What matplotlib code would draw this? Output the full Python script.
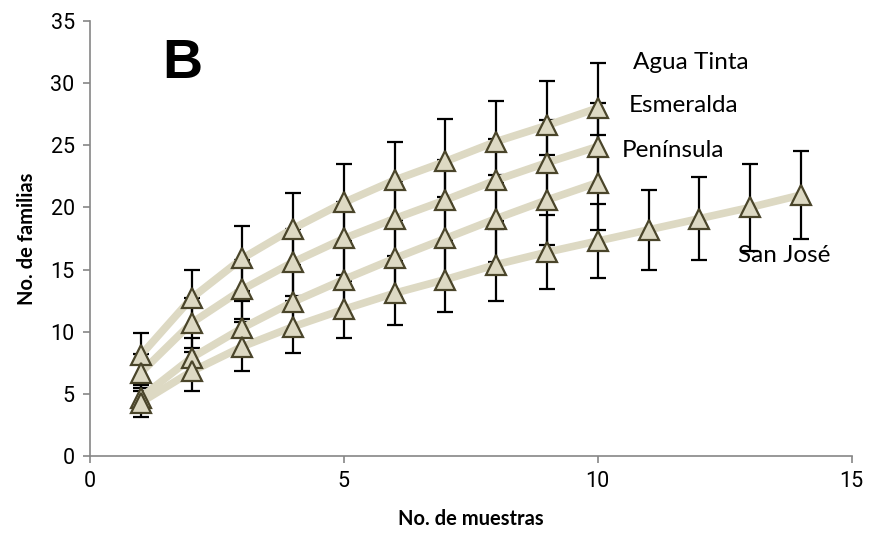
import matplotlib.pyplot as plt

# ---- Data ----
muestras_10 = [1, 2, 3, 4, 5, 6, 7, 8, 9, 10]
muestras_14 = [1, 2, 3, 4, 5, 6, 7, 8, 9, 10, 11, 12, 13, 14]

agua_tinta = [8.1, 12.7, 15.9, 18.3, 20.4, 22.2, 23.7, 25.3, 26.6, 28.0]
agua_tinta_err = [1.8, 2.3, 2.6, 2.9, 3.1, 3.1, 3.4, 3.3, 3.6, 3.6]

esmeralda = [6.7, 10.7, 13.4, 15.6, 17.5, 19.1, 20.6, 22.2, 23.6, 24.9]
esmeralda_err = [1.5, 2.0, 2.4, 2.7, 2.9, 3.0, 3.2, 3.3, 3.4, 3.5]

peninsula = [4.7, 7.9, 10.3, 12.4, 14.2, 15.9, 17.5, 19.1, 20.6, 22.0]
peninsula_err = [1.0, 1.6, 2.2, 2.6, 2.9, 3.1, 3.3, 3.5, 3.6, 3.8]

san_jose = [4.3, 6.8, 8.8, 10.4, 11.8, 13.1, 14.2, 15.4, 16.4, 17.3,
            18.2, 19.1, 20.0, 21.0]
san_jose_err = [1.2, 1.6, 2.0, 2.1, 2.3, 2.6, 2.6, 2.9, 3.0, 3.0,
                3.2, 3.35, 3.5, 3.55]

SERIES = [
    ('Agua Tinta', muestras_10, agua_tinta, agua_tinta_err, (10.69, 31.7)),
    ('Esmeralda', muestras_10, esmeralda, esmeralda_err, (10.6, 28.2)),
    ('Península', muestras_10, peninsula, peninsula_err, (10.47, 24.6)),
    ('San José', muestras_14, san_jose, san_jose_err, (12.76, 16.1)),
]

LINE_C = '#ddd9c3'
EDGE_C = '#4a452a'
AXIS_C = '#868686'

fig = plt.figure(figsize=(8.7, 5.44), dpi=100)
ax = fig.add_axes([0.1034, 0.1618, 0.8756, 0.7996])

# Error bars first, then lines + markers on top
for name, xs, ys, errs, _ in SERIES:
    ax.errorbar(xs, ys, yerr=errs, fmt='none', ecolor='black',
                elinewidth=1.6, capsize=5.5, capthick=1.6, zorder=2)
for name, xs, ys, errs, _ in SERIES:
    ax.plot(xs, ys, color=LINE_C, linewidth=5.5, zorder=3,
            solid_capstyle='round')
    ax.plot(xs, ys, linestyle='none', marker='^', markersize=15,
            markerfacecolor=LINE_C, markeredgecolor=EDGE_C,
            markeredgewidth=1.6, zorder=4)

for name, xs, ys, errs, (tx, ty) in SERIES:
    ax.text(tx, ty, name, fontsize=17.5, family='Lato',
            ha='left', va='center', color='black')

ax.text(1.42, 31.5, 'B', fontsize=40, weight='bold', family='Liberation Sans',
        ha='left', va='center')

ax.set_xlim(0, 15)
ax.set_ylim(0, 35)
ax.set_xticks([0, 5, 10, 15])
ax.set_yticks(range(0, 36, 5))

for side in ('top', 'right'):
    ax.spines[side].set_visible(False)
for side in ('left', 'bottom'):
    ax.spines[side].set_color(AXIS_C)
    ax.spines[side].set_linewidth(1.2)
ax.tick_params(axis='both', direction='out', length=5, width=1.2,
               color=AXIS_C, labelsize=15.5, pad=6)
for lab in ax.get_xticklabels() + ax.get_yticklabels():
    lab.set_family('Roboto')

ax.set_xlabel('No. de muestras', fontsize=14.5, weight='bold', family='Lato',
              labelpad=12)
ax.set_ylabel('No. de familias', fontsize=14.5, weight='bold', family='Lato',
              labelpad=10)

fig.savefig('out.png', dpi=100, facecolor='white')
